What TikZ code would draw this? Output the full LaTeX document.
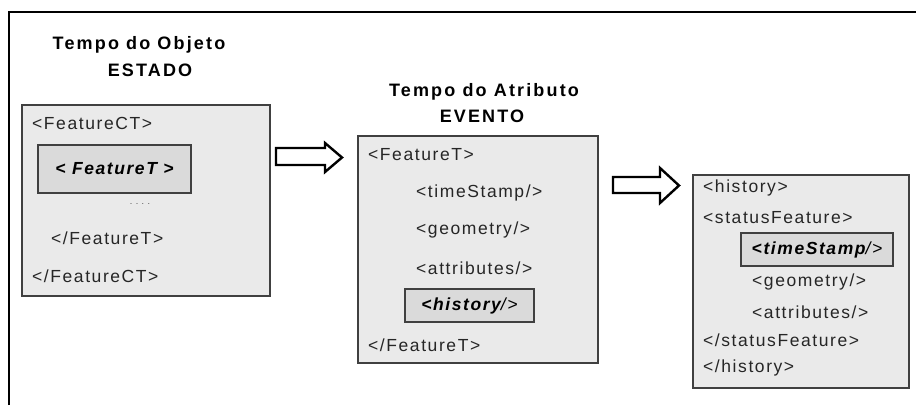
\documentclass[tikz,border=0pt]{standalone}
\usepackage{fontspec}
\setmainfont{Liberation Sans}
\newfontfamily\boxfont[LetterSpace=9]{Liberation Sans}
\newfontfamily\titlefont[LetterSpace=12]{Liberation Sans}
\definecolor{boxfill}{HTML}{EAEAEA}
\definecolor{innerfill}{HTML}{DADADA}
\definecolor{boxline}{HTML}{404040}
\begin{document}
\begin{tikzpicture}[x=1pt,y=-1pt,
  outerbox/.style={draw=boxline,fill=boxfill,line width=1.4pt,inner sep=0pt},
  innerbox/.style={draw=boxline,fill=innerfill,line width=1.4pt,inner sep=0pt},
  txt/.style={inner sep=0pt,anchor=west,font=\boxfont\fontsize{17.5}{20}\selectfont,text=black!85},
  ctxt/.style={inner sep=0pt,font=\boxfont\fontsize{17.5}{20}\selectfont,text=black},
  ttl/.style={inner sep=0pt,font=\titlefont\bfseries\fontsize{18}{20}\selectfont},
  blockarrow/.style={draw=black,line width=2.4pt,fill=white,line join=miter}]
\useasboundingbox (0,0) rectangle (916,405);
% frame
\draw[line width=2pt] (9,405) |- (916,12);
% titles
\node[ttl] (t1a) at (139,45) {Tempo do Objeto};
\node[ttl] (t1b) at (150,70) {ESTADO};
\node[ttl] (t2a) at (484,92) {Tempo do Atributo};
\node[ttl] (t2b) at (482,116) {EVENTO};
% box 1
\node[outerbox,minimum width=248pt,minimum height=191pt] (b1) at (146,200.5) {};
\node[innerbox,minimum width=153pt,minimum height=48pt] (b1i) at (114.5,169) {};
\node[txt] (l11) at (32,123) {<FeatureCT>};
\node[ctxt] (l12) at (b1i.center) {\bfseries\itshape < FeatureT >};
\node[inner sep=0pt,font=\fontsize{9}{10}\selectfont,text=black!70] (l13) at (140,204) {. . . .};
\node[txt] (l14) at (51,238) {</FeatureT>};
\node[txt] (l15) at (32,276) {</FeatureCT>};
% arrow 1
\draw[blockarrow] (276,148) -- (325,148) -- (325,143) -- (342,157.5) -- (325,172) -- (325,165) -- (276,165) -- cycle;
% box 2
\node[outerbox,minimum width=240pt,minimum height=227pt] (b2) at (478,249.5) {};
\node[innerbox,minimum width=129pt,minimum height=33pt] (b2i) at (469.5,305.5) {};
\node[txt] (l21) at (368,155) {<FeatureT>};
\node[txt] (l22) at (416,193) {<timeStamp/>};
\node[txt] (l23) at (416,230) {<geometry/>};
\node[txt] (l24) at (416,268) {<attributes/>};
\node[ctxt] (l25) at (b2i.center) {\bfseries\itshape <history\mdseries/>};
\node[txt] (l26) at (368,345) {</FeatureT>};
% arrow 2
\draw[blockarrow] (613,177) -- (660,177) -- (660,168) -- (679,185.5) -- (660,203) -- (660,193) -- (613,193) -- cycle;
% box 3
\node[outerbox,minimum width=216pt,minimum height=213pt] (b3) at (801,281.5) {};
\node[innerbox,minimum width=152pt,minimum height=33pt] (b3i) at (817,249.5) {};
\node[txt] (l31) at (703,188) {<history>};
\node[txt] (l32) at (703,218) {<statusFeature>};
\node[ctxt] (l33) at (b3i.center) {\bfseries\itshape <timeStamp\mdseries/>};
\node[txt] (l34) at (752,282) {<geometry/>};
\node[txt] (l35) at (752,312) {<attributes/>};
\node[txt] (l36) at (703,340) {</statusFeature>};
\node[txt] (l37) at (703,368) {</history>};
\end{tikzpicture}
\end{document}
